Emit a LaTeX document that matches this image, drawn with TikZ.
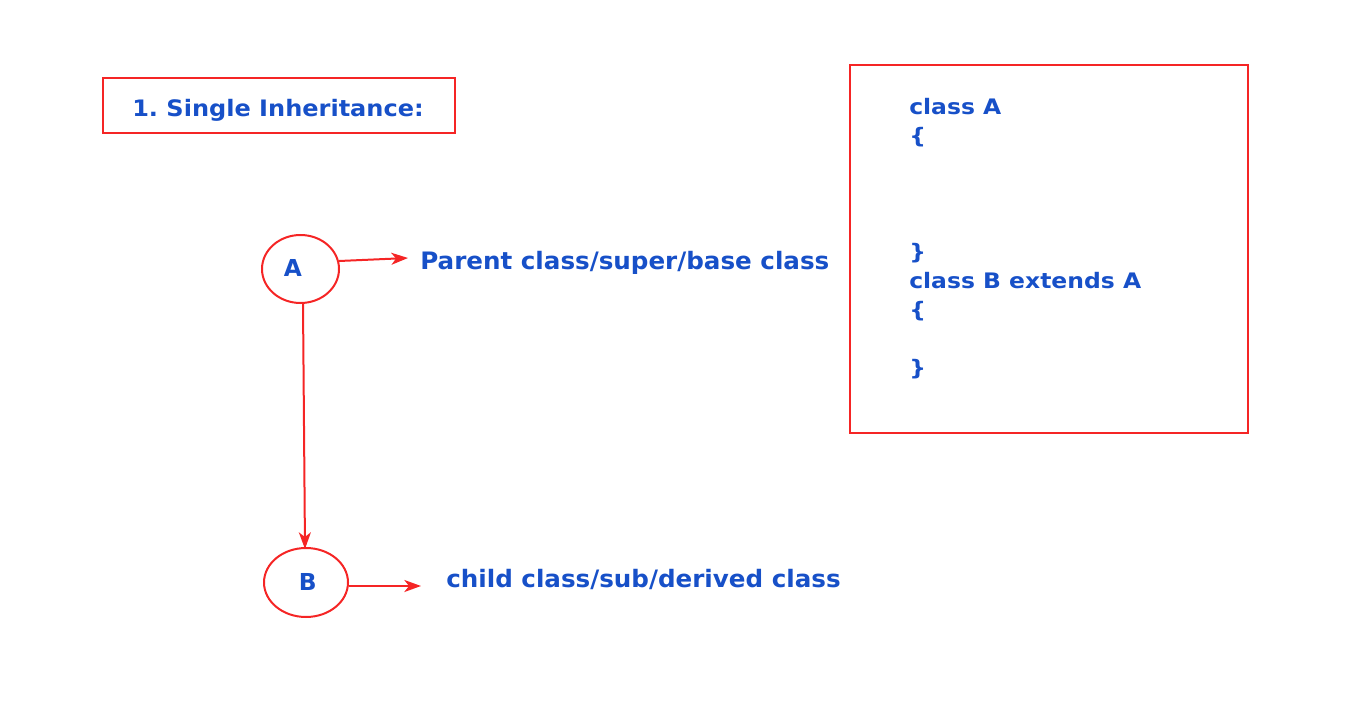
\documentclass[tikz,border=0pt]{standalone}
\usepackage{fontspec}
\setmainfont{DejaVu Sans}
\newfontfamily\codefont[FakeStretch=1.10]{DejaVu Sans}
\newfontfamily\titlefont[FakeStretch=1.06]{DejaVu Sans}
\newfontfamily\labelfont[FakeStretch=1.025]{DejaVu Sans}
\usetikzlibrary{shapes.geometric,arrows.meta}
\definecolor{txtblue}{HTML}{1750C8}
\definecolor{lnred}{HTML}{F52525}
\frenchspacing
\begin{document}
\begin{tikzpicture}[x=0.75pt,y=-0.75pt,
  txt/.style={text=txtblue,anchor=base west,inner sep=0pt},
  code/.style={txt,font=\codefont\bfseries\fontsize{16pt}{18pt}\selectfont},
  ttl/.style={txt,font=\titlefont\bfseries\fontsize{17pt}{19pt}\selectfont},
  lbl/.style={txt,font=\labelfont\bfseries\fontsize{18pt}{20pt}\selectfont},
  letter/.style={txt,font=\bfseries\fontsize{17.5pt}{20pt}\selectfont},
  circ/.style={draw=lnred,line width=1.5pt,ellipse,inner sep=0pt},
  box/.style={draw=lnred,line width=1.5pt},
  arr/.style={draw=lnred,line width=1.5pt,-{Stealth[length=12.5pt,width=9pt,inset=3.5pt]}}]
\useasboundingbox (0,0) rectangle (1366,706);
% title box
\draw[box] (103,78) rectangle (455,133);
\node[ttl] (title) at (132,117) {1. Single Inheritance:};
% code box
\draw[box] (850,65) rectangle (1248,433);
\node[code] (c1) at (909,115) {class A};
\node[code] (c2) at (909,144) {\{};
\node[code] (c3) at (909,259) {\}};
\node[code] (c4) at (909,288) {class B extends A};
\node[code] (c5) at (909,317) {\{};
\node[code] (c6) at (909,375) {\}};
% ellipses
\node[circ,minimum width=57.75pt,minimum height=51pt] (A) at (300.5,269) {};
\node[circ,minimum width=63pt,minimum height=51.75pt] (B) at (306,582.5) {};
\node[letter] (la) at (283.5,276) {A};
\node[letter] (lb) at (298.5,590) {B};
% labels
\node[lbl] (pt) at (420,269) {Parent class/super/base class};
\node[lbl] (ct) at (446,587) {child class/sub/derived class};
\coordinate (pend) at (408,258);
\coordinate (cend) at (421,586);
\coordinate (astart) at (303,304);
\coordinate (bend) at (305,549);
\draw[arr] (339,261) -- (pend);
\draw[arr] (astart) -- (bend);
\draw[arr] (349,586) -- (cend);
\end{tikzpicture}
\end{document}
